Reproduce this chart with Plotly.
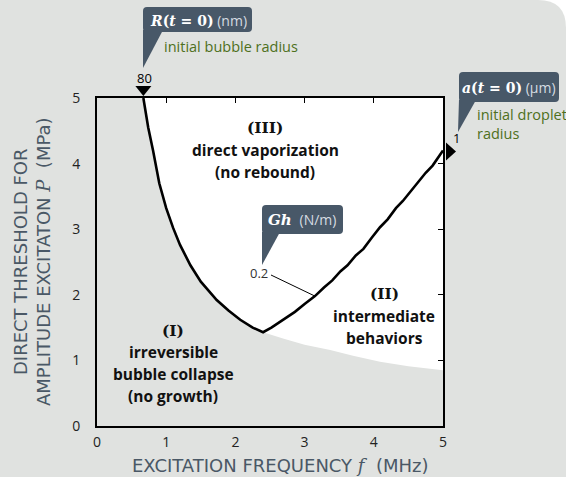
import plotly.graph_objects as go

# ---------------- data ----------------
# threshold curve (black line): left branch then right branch
curve_f = [0.67, 0.74, 0.81, 0.90, 1.00, 1.10, 1.20, 1.35, 1.50, 1.73, 1.90, 2.07, 2.25, 2.40,
           2.52, 2.62, 2.74, 2.86, 3.00, 3.08, 3.15, 3.28, 3.40, 3.52, 3.62, 3.74, 3.85, 3.97,
           4.09, 4.20, 4.32, 4.42, 4.55, 4.64, 4.75, 4.85, 4.93, 5.00]
curve_p = [5.00, 4.55, 4.20, 3.70, 3.32, 3.02, 2.76, 2.45, 2.20, 1.92, 1.76, 1.62, 1.50, 1.43,
           1.50, 1.57, 1.66, 1.74, 1.86, 1.92, 1.98, 2.11, 2.22, 2.36, 2.45, 2.60, 2.70, 2.87,
           3.03, 3.15, 3.32, 3.43, 3.60, 3.70, 3.86, 3.97, 4.09, 4.20]
# lower boundary of the white region (region II / region I border)
lower_f = [2.40, 2.70, 3.00, 3.37, 3.70, 4.09, 4.50, 5.00]
lower_p = [1.43, 1.33, 1.24, 1.16, 1.07, 0.98, 0.91, 0.85]

x_ticks = [0, 1, 2, 3, 4, 5]
y_ticks = [0, 1, 2, 3, 4, 5]
inner_ticks = [1, 2, 3, 4]

R0_label = "80"
a0_label = "1"
Gh_label = "0.2"
Gh_f, Gh_p = 3.15, 1.98

region_labels = [
    (["(III)", "direct vaporization", "(no rebound)"], 2.43, 4.21),
    (["(I)", "irreversible", "bubble collapse", "(no growth)"], 1.10, 0.96),
    (["(II)", "intermediate", "behaviors"], 4.15, 1.68),
]

# ---------------- styling ----------------
BG = "#e0e2e0"
BOX = "#485868"
GREEN = "#4e7020"
TITLE = "#4a5866"
FONT = "Open Sans"
TFONT = "DejaVu Sans"
SERIF = "DejaVu Serif"

W, H = 566, 477
L, R, T, B = 97, 123, 98, 51
PW, PH = W - L - R, H - T - B
XMAX, YMAX = 5.0, 5.0


def px(x):
    return (x - L) / PW


def py(y):
    return (H - B - y) / PH


def path(points, close=True):
    s = ""
    for cmd, *pts in points:
        coords = " ".join(f"{px(pts[j]):.5f},{py(pts[j+1]):.5f}" for j in range(0, len(pts), 2))
        s += f"{cmd} {coords} "
    return s + ("Z" if close else "")


def rrect(x0, y0, x1, y1, r=4):
    return path([("M", x0 + r, y0), ("L", x1 - r, y0), ("Q", x1, y0, x1, y0 + r),
                 ("L", x1, y1 - r), ("Q", x1, y1, x1 - r, y1), ("L", x0 + r, y1),
                 ("Q", x0, y1, x0, y1 - r), ("L", x0, y0 + r), ("Q", x0, y0, x0 + r, y0)])


def data_to_px(f, p):
    return L + f / XMAX * PW, H - B - p / YMAX * PH


fig = go.Figure()

# white region (III + II)
white_f = curve_f[:14] + lower_f[1:] + [5.0, curve_f[0]]
white_p = curve_p[:14] + lower_p[1:] + [5.0, 5.0]
fig.add_trace(go.Scatter(x=white_f, y=white_p, fill="toself", fillcolor="white",
                         line=dict(width=0), mode="lines", hoverinfo="skip", showlegend=False))
# threshold curve
fig.add_trace(go.Scatter(x=curve_f, y=curve_p, mode="lines",
                         line=dict(color="black", width=2.6), showlegend=False))
# dummy trace for mirrored tick axes
fig.add_trace(go.Scatter(x=[None], y=[None], xaxis="x2", yaxis="y2", showlegend=False))

shapes = []
# page background with rounded top-right corner
shapes.append(dict(type="path", xref="paper", yref="paper", layer="below", line=dict(width=0),
                   fillcolor=BG,
                   path=path([("M", 0, H), ("L", 0, 0), ("L", W - 28, 0), ("Q", W, 0, W, 28), ("L", W, H)])))
# callout boxes + tails
callouts = [
    ((143, 7, 252, 32), [(143, 30), (163, 30), (143, 68)]),
    ((459, 72, 559, 102), [(459, 100), (476, 100), (458, 132)]),
    ((262, 205, 343, 234), [(262, 232), (280, 232), (262, 265)]),
]
for (x0, y0, x1, y1), tail in callouts:
    shapes.append(dict(type="path", xref="paper", yref="paper", layer="above", line=dict(width=0),
                       fillcolor=BOX, path=rrect(x0, y0, x1, y1)))
    shapes.append(dict(type="path", xref="paper", yref="paper", layer="above", line=dict(width=0),
                       fillcolor=BOX, path=path([("M",) + tail[0], ("L",) + tail[1], ("L",) + tail[2]])))

# triangle markers for the initial values (top: R(t=0) at curve start, right: a(t=0) at curve end)
tx, ty = data_to_px(curve_f[0], YMAX)
shapes.append(dict(type="path", xref="paper", yref="paper", layer="above", line=dict(width=0),
                   fillcolor="black", path=path([("M", tx, ty - 2), ("L", tx - 8, ty - 12), ("L", tx + 8, ty - 12)])))
rx, ry = data_to_px(XMAX, curve_p[-1])
shapes.append(dict(type="path", xref="paper", yref="paper", layer="above", line=dict(width=0),
                   fillcolor="black", path=path([("M", rx + 13, ry + 1), ("L", rx + 3, ry - 8), ("L", rx + 3, ry + 10)])))

annotations = []


def ann(text, x, y, size=13, color="black", xanchor="center", ref="data", family=FONT, **kw):
    if ref == "px":
        x, y = px(x), py(y)
        xr, yr = "paper", "paper"
    else:
        xr, yr = "x", "y"
    annotations.append(dict(text=text, x=x, y=y, xref=xr, yref=yr, showarrow=False,
                            xanchor=xanchor, yanchor="middle",
                            font=dict(size=size, color=color, family=family), **kw))


def math(s):
    return f'<span style="font-family:{SERIF};"><b>{s}</b></span>'


unit_style = 'font-size:14px;color:#d6dce2;'
ann(math("<i>R</i>(<i>t</i> = 0)") + f' <span style="{unit_style}">(nm)</span>', 198, 20, size=14,
    color="white", ref="px")
ann(math("<i>a</i>(<i>t</i> = 0)") + f' <span style="{unit_style}">(µm)</span>', 509, 87, size=14,
    color="white", ref="px")
ann(math("<i>Gh</i>") + f'  <span style="{unit_style}">(N/m)</span>', 302, 219, size=15,
    color="white", ref="px")
ann("initial bubble radius", 162, 47, size=14.5, color=GREEN, xanchor="left", ref="px")
ann("initial droplet<br>radius", 475, 124, size=14.5, color=GREEN, xanchor="left", ref="px", align="left")
ann(R0_label, tx + 1, ty - 20, size=13, ref="px")
ann(a0_label, rx + 13, ry - 12, size=13, ref="px")
ann(Gh_label, 259, 273, size=13, color="#333", ref="px")

# region labels, one annotation per line
for lines, f, p in region_labels:
    n = len(lines)
    for k, line in enumerate(lines):
        txt = f'<span style="font-family:{SERIF};">{line}</span>' if k == 0 else line
        ann(f"<b>{txt}</b>", f, p, size=15.5, color="#111", yshift=((n - 1) / 2 - k) * 22)

# axis titles
SI = f'<span style="font-family:{SERIF};"><i>'
ann(f"EXCITATION FREQUENCY {SI}f</i></span>  (MHz)", 280, 465, size=18, color=TITLE, ref="px", family=TFONT)
ann(f"DIRECT THRESHOLD FOR<br>AMPLITUDE EXCITATON {SI}P</i></span>  (MPa)", 32, 262, size=18, color=TITLE,
    ref="px", textangle=-90, family=TFONT)

# leader line for Gh label
lx = (271 - L) / PW * XMAX
ly = (H - B - 275) / PH * YMAX
fig.add_trace(go.Scatter(x=[lx, Gh_f], y=[ly, Gh_p], mode="lines",
                         line=dict(color="black", width=1), showlegend=False))

axis_common = dict(range=[0, 5], showgrid=False, zeroline=False, showline=True, linecolor="black",
                   linewidth=2, mirror=True, tickfont=dict(size=14, color="#222", family=FONT))
fig.update_layout(
    width=W, height=H, autosize=False,
    margin=dict(l=L, r=R, t=T, b=B),
    paper_bgcolor="white", plot_bgcolor=BG,
    font=dict(family=FONT),
    xaxis=dict(**axis_common, tickvals=x_ticks, ticks="", ticklabelstandoff=2),
    yaxis=dict(**axis_common, tickvals=y_ticks, ticks="", ticklabelstandoff=12),
    xaxis2=dict(range=[0, 5], overlaying="x", side="top", tickvals=inner_ticks, ticks="inside",
                ticklen=5, tickcolor="black", showticklabels=False, showgrid=False, zeroline=False,
                anchor="y"),
    yaxis2=dict(range=[0, 5], overlaying="y", side="right", tickvals=inner_ticks, ticks="inside",
                ticklen=5, tickcolor="black", showticklabels=False, showgrid=False, zeroline=False,
                anchor="x"),
    shapes=shapes, annotations=annotations,
)
fig.write_html("out.html", config={"displayModeBar": False},
               post_script="document.body.style.margin='0';document.body.style.overflow='hidden';")
